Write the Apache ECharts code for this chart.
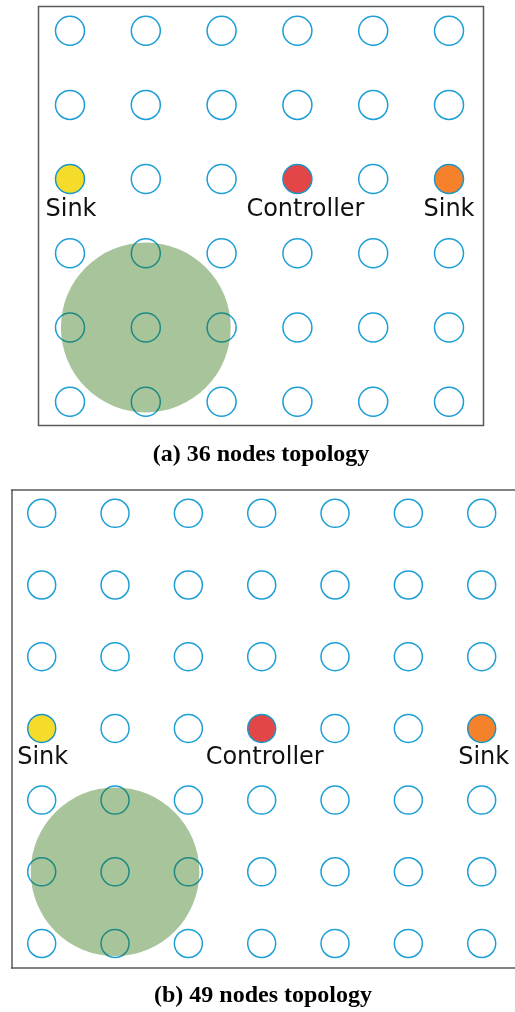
<!DOCTYPE html>
<html>
<head>
<meta charset="utf-8">
<script src="https://cdn.jsdelivr.net/npm/echarts@6/dist/echarts.min.js"></script>
<style>
  html, body { margin: 0; padding: 0; background: #fff; }
  #chart { width: 515px; height: 1012px; }
</style>
</head>
<body>
<div id="chart"></div>
<script>
'use strict';

// ---- data ----
const colsA = [0, 1, 2, 3, 4, 5];
const rowsA = [0, 1, 2, 3, 4, 5];
const colsB = [0, 1, 2, 3, 4, 5, 6];
const rowsB = [0, 1, 2, 3, 4, 5, 6];

// [label, col, row, role]
const specialA = [['Sink', 0, 2, 'sink1'], ['Controller', 3, 2, 'ctrl'], ['Sink', 5, 2, 'sink2']];
const specialB = [['Sink', 0, 3, 'sink1'], ['Controller', 3, 3, 'ctrl'], ['Sink', 6, 3, 'sink2']];

// coverage area: [col, row, radius in grid units]
const coverageA = [1, 4, 1.12];
const coverageB = [1, 5, 1.15];

const captions = ['(a) 36 nodes topology', '(b) 49 nodes topology'];

// ---- styles ----
const nodeBlue = '#1d9fd5';
const frameColor = '#5a5a5a';
const roleColors = { sink1: '#f5dc2b', ctrl: '#e24646', sink2: '#f5812b' };
const labelOffsetA = { sink1: [1, 0], ctrl: [8, 0], sink2: [0, 0] };
const labelOffsetB = { sink1: [1, 0], ctrl: [3, 0], sink2: [2, 0] };

function plainNodes(cols, rows, special) {
  const out = [];
  rows.forEach((r) => {
    cols.forEach((c) => {
      if (!special.some((s) => s[1] === c && s[2] === r)) out.push([c, r]);
    });
  });
  return out;
}

function specialNodes(special, offsets) {
  return special.map((s) => ({
    value: [s[1], s[2]],
    itemStyle: { color: roleColors[s[3]] },
    label: { formatter: s[0], offset: offsets[s[3]] }
  }));
}

function nodeSeries(idx, cols, rows, special, offsets, size) {
  return [
    {
      type: 'scatter',
      xAxisIndex: idx,
      yAxisIndex: idx,
      symbol: 'circle',
      symbolSize: size,
      data: plainNodes(cols, rows, special),
      itemStyle: { color: 'rgba(0,0,0,0)', borderColor: nodeBlue, borderWidth: 1.5, opacity: 1 },
      silent: true,
      z: 2
    },
    {
      type: 'scatter',
      xAxisIndex: idx,
      yAxisIndex: idx,
      symbol: 'circle',
      symbolSize: size,
      data: specialNodes(special, offsets),
      itemStyle: { borderColor: '#1a96c8', borderWidth: 1.5, opacity: 1 },
      label: {
        show: true,
        position: 'bottom',
        distance: 3,
        color: '#111',
        fontFamily: 'DejaVu Sans',
        fontSize: 24
      },
      silent: true,
      z: 2
    }
  ];
}

function coverageSeries(idx, cov) {
  return {
    type: 'custom',
    xAxisIndex: idx,
    yAxisIndex: idx,
    data: [cov],
    silent: true,
    z: 5,
    renderItem: (params, api) => {
      const c = api.coord([api.value(0), api.value(1)]);
      const s = api.size([api.value(2), api.value(2)]);
      return {
        type: 'circle',
        shape: { cx: c[0], cy: c[1], r: s[0] },
        style: { fill: 'rgba(35,108,5,0.4)' }
      };
    }
  };
}

const hiddenAxis = { type: 'value', show: false, splitLine: { show: false } };
// axis that only draws its line, used as frame edge for the cut-off panel
const frameAxis = {
  type: 'value',
  show: true,
  splitLine: { show: false },
  axisTick: { show: false },
  axisLabel: { show: false },
  axisLine: { show: true, onZero: false, lineStyle: { color: frameColor, width: 1.5 } }
};

const chart = echarts.init(document.getElementById('chart'), null, { renderer: 'canvas' });

const option = {
  animation: false,
  backgroundColor: '#fff',
  grid: [
    { left: 38.5, top: 6.5, width: 445, height: 419, outerBoundsMode: 'none', show: true, borderColor: frameColor, borderWidth: 1.5, backgroundColor: 'transparent' },
    { left: 11.5, top: 490, width: 540, height: 478, outerBoundsMode: 'none', show: false }
  ],
  xAxis: [
    Object.assign({}, hiddenAxis, { gridIndex: 0, min: -0.4156, max: 5.455 }),
    Object.assign({}, frameAxis, { gridIndex: 1, position: 'bottom', min: -0.412, max: 6.952 }),
    Object.assign({}, frameAxis, { gridIndex: 1, position: 'top', min: -0.412, max: 6.952 })
  ],
  yAxis: [
    Object.assign({}, hiddenAxis, { gridIndex: 0, min: -0.326, max: 5.321, inverse: true }),
    Object.assign({}, frameAxis, { gridIndex: 1, position: 'left', min: -0.325, max: 6.342, inverse: true })
  ],
  graphic: [
    {
      type: 'text',
      x: 261,
      y: 455,
      style: {
        text: captions[0],
        font: 'bold 24px "Liberation Serif", "Times New Roman", serif',
        fill: '#000',
        textAlign: 'center',
        textVerticalAlign: 'middle'
      }
    },
    {
      type: 'text',
      x: 263,
      y: 996,
      style: {
        text: captions[1],
        font: 'bold 24px "Liberation Serif", "Times New Roman", serif',
        fill: '#000',
        textAlign: 'center',
        textVerticalAlign: 'middle'
      }
    }
  ],
  series: [
    ...nodeSeries(0, colsA, rowsA, specialA, labelOffsetA, 29),
    coverageSeries(0, coverageA),
    ...nodeSeries(1, colsB, rowsB, specialB, labelOffsetB, 28),
    coverageSeries(1, coverageB)
  ]
};

chart.setOption(option);

window.addEventListener('resize', () => {
  chart.resize();
});
</script>
</body>
</html>
